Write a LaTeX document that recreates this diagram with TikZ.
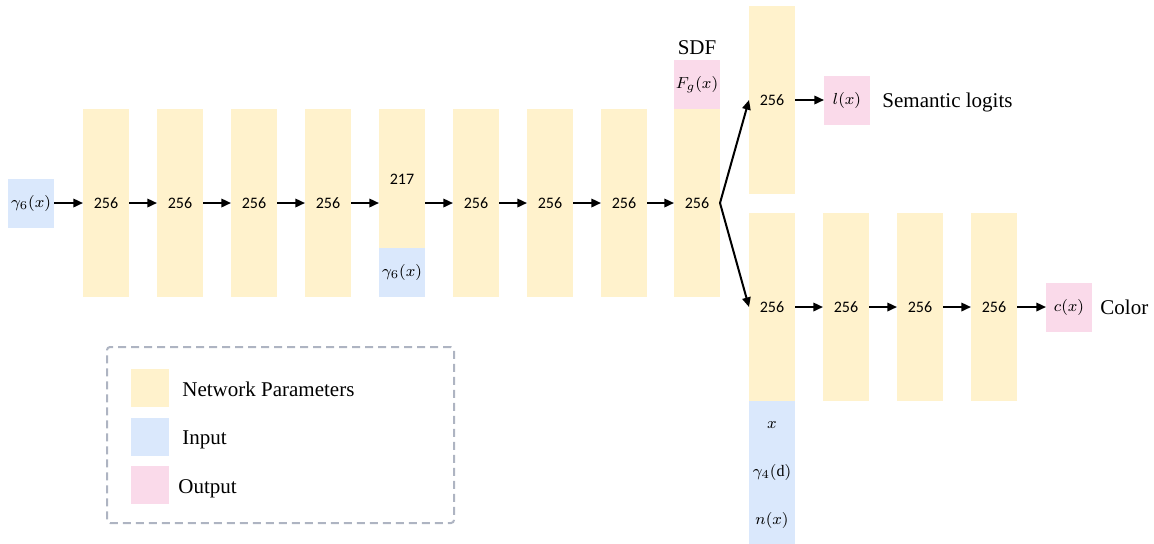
\documentclass[tikz,border=0pt]{standalone}
\usepackage{fontspec}
\setmainfont{Liberation Serif}
\newfontfamily\numfont{Carlito}
\usetikzlibrary{arrows.meta}
\definecolor{paramc}{HTML}{FFF2CC}
\definecolor{inc}{HTML}{DAE8FC}
\definecolor{outc}{HTML}{FADAEA}
\definecolor{legc}{HTML}{AEB4C2}
\begin{document}
\begin{tikzpicture}[x=0.5pt,y=-0.5pt,
  cell/.style={inner sep=0pt, outer sep=0pt, anchor=north west, minimum width=23pt,
               font=\numfont\fontsize{8}{10}\selectfont},
  param/.style={cell, fill=paramc},
  inp/.style={cell, fill=inc},
  outp/.style={cell, fill=outc},
  flow/.style={-{Triangle[length=4.8pt,width=4.2pt]}, line width=1pt},
  lbl/.style={font=\fontsize{10.5}{12}\selectfont, inner sep=0pt},
]
\useasboundingbox (0,0) rectangle (1154,543);

% geometry trunk
\node[inp, minimum height=24.5pt] (in) at (8,178.5) {$\gamma_6(x)$};
\node[param, minimum height=94pt] (c1) at (83,109) {256};
\node[param, minimum height=94pt] (c2) at (157,109) {256};
\node[param, minimum height=94pt] (c3) at (231,109) {256};
\node[param, minimum height=94pt] (c4) at (305,109) {256};
\node[param, minimum height=94pt] (c5) at (379,109) {};
\node[inp, minimum height=24.5pt] (c5in) at (379,248) {$\gamma_6(x)$};
\node[cell, anchor=center] (c5n) at (402,179) {217};
\node[param, minimum height=94pt] (c6) at (453,109) {256};
\node[param, minimum height=94pt] (c7) at (527,109) {256};
\node[param, minimum height=94pt] (c8) at (601,109) {256};
\node[param, minimum height=94pt] (c9) at (674,109) {256};
\node[outp, minimum height=24.5pt] (sdf) at (674,60) {$F_g(x)$};
\node[lbl, anchor=base] (sdft) at (697,54) {SDF};

% semantic head
\node[param, minimum height=94pt] (u1) at (749,6) {256};
\node[outp, minimum height=24.5pt] (lx) at (824,75.5) {$l(x)$};
\node[lbl, anchor=base west] (semt) at (882,107) {Semantic logits};

% color head
\node[param, minimum height=94pt] (d1) at (749,213) {256};
\node[inp, minimum height=23.83pt] (dx) at (749,401) {$x$};
\node[inp, minimum height=23.83pt] (dd) at (749,448.67) {$\gamma_4(\mathrm{d})$};
\node[inp, minimum height=23.83pt] (dn) at (749,496.33) {$n(x)$};
\node[param, minimum height=94pt] (d2) at (823,213) {256};
\node[param, minimum height=94pt] (d3) at (897,213) {256};
\node[param, minimum height=94pt] (d4) at (971,213) {256};
\node[outp, minimum height=24.5pt] (cx) at (1046,282.5) {$c(x)$};
\node[lbl, anchor=base west] (colt) at (1100,314) {Color};

% connectors
\draw[flow] (in.east) -- (c1.west);
\draw[flow] (c1.east) -- (c2.west);
\draw[flow] (c2.east) -- (c3.west);
\draw[flow] (c3.east) -- (c4.west);
\draw[flow] (c4.east) -- (c5.west);
\draw[flow] (c5.east) -- (c6.west);
\draw[flow] (c6.east) -- (c7.west);
\draw[flow] (c7.east) -- (c8.west);
\draw[flow] (c8.east) -- (c9.west);
\draw[flow] (c9.east) -- (u1.west);
\draw[flow] (c9.east) -- (d1.west);
\draw[flow] (u1.east) -- (lx.west);
\draw[flow] (d1.east) -- (d2.west);
\draw[flow] (d2.east) -- (d3.west);
\draw[flow] (d3.east) -- (d4.west);
\draw[flow] (d4.east) -- (cx.west);

% legend
\node[draw=legc, line width=1pt, dash pattern=on 4pt off 2.5pt, rounded corners=1.5pt,
      inner sep=0pt, minimum width=173.5pt, minimum height=88pt, anchor=north west]
      (legend) at (106,346) {};
\node[param, minimum width=19pt, minimum height=19pt] (kp) at (131,369) {};
\node[inp, minimum width=19pt, minimum height=19pt] (ki) at (131,418) {};
\node[outp, minimum width=19pt, minimum height=19pt] (ko) at (131,466) {};
\node[lbl, anchor=base west] (kpt) at (182,396) {Network Parameters};
\node[lbl, anchor=base west] (kit) at (182,444) {Input};
\node[lbl, anchor=base west] (kot) at (178,493) {Output};
\end{tikzpicture}
\end{document}
